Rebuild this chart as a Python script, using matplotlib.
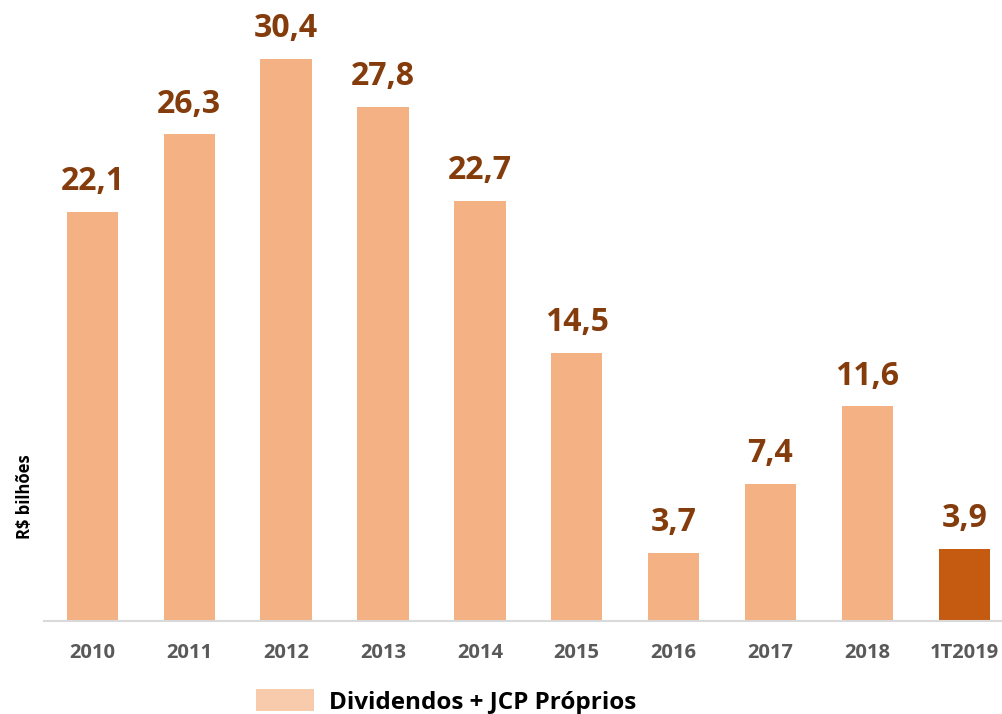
import matplotlib
matplotlib.use("Agg")
import matplotlib.pyplot as plt
from matplotlib.patches import Patch

categories = ["2010", "2011", "2012", "2013", "2014", "2015", "2016", "2017", "2018", "1T2019"]
values = [22.1, 26.3, 30.4, 27.8, 22.7, 14.5, 3.7, 7.4, 11.6, 3.9]
labels = ["22,1", "26,3", "30,4", "27,8", "22,7", "14,5", "3,7", "7,4", "11,6", "3,9"]

plt.rcParams['font.family'] = ['Open Sans', 'DejaVu Sans']

fig = plt.figure(figsize=(10.02, 7.14), dpi=100)
W, H = 1002, 714
ax = fig.add_axes([44 / W, (714 - 621) / H, 958 / W, (621 - 29) / H])

colors = ["#F4B183"] * 9 + ["#C55A11"]
x = list(range(len(categories)))
bars = ax.bar(x, values, width=0.53, color=colors)
for xi, v, lab in zip(x, values, labels):
    ax.annotate(lab, (xi, v), xytext=(0, 10), textcoords="offset points",
                ha="center", va="bottom", fontsize=23, fontweight="bold", color="#843C0C")

ax.set_xlim(-0.5, 9.39)
ax.set_ylim(0, 32)
ax.set_xticks(x)
ax.set_xticklabels(categories, fontsize=14.5, fontweight="bold", color="#595959")
ax.tick_params(axis="x", length=0, pad=16)
ax.set_yticks([])
for s in ["top", "right", "left"]:
    ax.spines[s].set_visible(False)
ax.spines["bottom"].set_color("#D9D9D9")
ax.spines["bottom"].set_linewidth(1.5)

fig.text(25 / W, 1 - 497 / H, "R$ bilhões", rotation=90, ha="center", va="center",
         fontsize=12, fontweight="bold", color="black")

handle = Patch(facecolor="#F8CBAD", edgecolor="none")
fig.legend([handle], ["Dividendos + JCP Próprios"], loc="center",
           bbox_to_anchor=(446 / W, 1 - 702 / H), frameon=False,
           prop={"size": 17.5, "weight": "bold"}, handlelength=2.4, handleheight=1.0,
           handletextpad=0.6)

fig.savefig("out.png", dpi=100)
